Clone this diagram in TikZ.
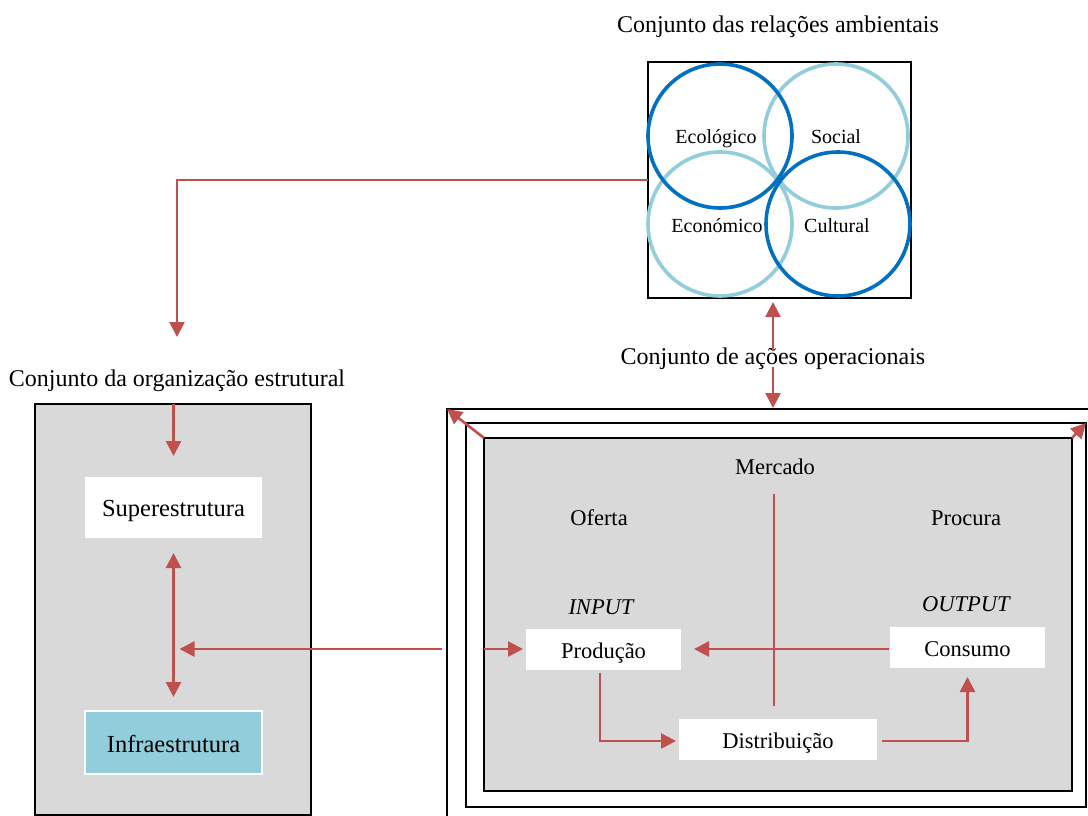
\documentclass[tikz,border=0pt]{standalone}
\usepackage{fontspec}
\setmainfont{Liberation Serif}
\usetikzlibrary{arrows.meta}
\definecolor{flowred}{HTML}{C0504D}
\definecolor{darkblue}{HTML}{0070C0}
\definecolor{lightblue}{HTML}{92CDDC}
\definecolor{panel}{HTML}{D9D9D9}
\begin{document}
\begin{tikzpicture}[x=1pt,y=-1pt,
  every node/.style={outer sep=0pt},
  label24/.style={font=\fontsize{24}{28}\selectfont, inner sep=0pt, anchor=base},
  label22/.style={font=\fontsize{22.5}{26}\selectfont, inner sep=0pt, anchor=base},
  circlabel/.style={font=\fontsize{20}{24}\selectfont, inner sep=0pt, anchor=base},
  frame/.style={draw=black, line width=1.6pt, rectangle},
  whitebox/.style={rectangle, fill=white, font=\fontsize{22.5}{26}\selectfont, text height=17pt, text depth=0pt},
  flow/.style={draw=flowred, line width=2.6pt, -{Triangle[width=15pt,length=15pt]}},
  flowboth/.style={draw=flowred, line width=2.6pt, {Triangle[width=15pt,length=15pt]}-{Triangle[width=15pt,length=15pt]}},
  flowline/.style={draw=flowred, line width=2.6pt},
  ring/.style={line width=3.6pt}
]
\fill[white] (0,0) rectangle (1088,816);
\clip (0,0) rectangle (1088,816);

% environmental relations
\node[label24] (ambtitle) at (778,33) {Conjunto das relações ambientais};
\node[frame, minimum width=263pt, minimum height=236pt] (topbox) at (779.5,180) {};
\draw[ring, lightblue] (836,136) circle (72);
\draw[ring, lightblue] (720,224) circle (72);
\draw[ring, darkblue] (720,136) circle (72);
\draw[ring, darkblue] (838,224) circle (72);
\node[circlabel] (eco) at (716,143.5) {Ecológico};
\node[circlabel] (soc) at (836,143.5) {Social};
\node[circlabel] (econ) at (717,232) {Económico};
\node[circlabel] (cult) at (837,232) {Cultural};

% structural organisation
\node[label24] (orgtitle) at (177,386) {Conjunto da organização estrutural};
\coordinate (orgin) at (177,337);
\node[frame, fill=panel, minimum width=276pt, minimum height=411pt] (leftbox) at (173,609.5) {};
\node[whitebox, font=\fontsize{24.5}{28}\selectfont, minimum width=177pt, minimum height=61pt] (super) at (173.5,507.5) {Superestrutura};
\node[rectangle, fill=lightblue, draw=white, line width=1.5pt, font=\fontsize{24.5}{28}\selectfont, text height=19pt, text depth=0pt, minimum width=177pt, minimum height=63pt] (infra) at (173.5,742.5) {Infraestrutura};

% operational actions
\node[label24] (opstitle) at (773,364) {Conjunto de ações operacionais};
\node[frame, minimum width=700pt, minimum height=500pt, anchor=north west] (outer) at (447,409) {};
\node[frame, minimum width=620pt, minimum height=384pt] (middle) at (776,615) {};
\node[frame, fill=panel, minimum width=588pt, minimum height=353pt] (inner) at (778,614.5) {};

\node[label22] (mercado) at (775,474.5) {Mercado};
\node[label22] (oferta) at (599,525.5) {Oferta};
\node[label22] (procura) at (966,525.5) {Procura};
\node[label22, font=\fontsize{22.5}{26}\selectfont\itshape] (input) at (601,614.5) {INPUT};
\node[label22, font=\fontsize{22.5}{26}\selectfont\itshape] (output) at (966,611.5) {OUTPUT};
\node[whitebox, minimum width=155pt, minimum height=41pt] (prod) at (603.5,649.5) {Produção};
\node[whitebox, minimum width=155pt, minimum height=41pt] (cons) at (967.5,647.5) {Consumo};
\node[whitebox, minimum width=198pt, minimum height=41pt] (dist) at (778,739.5) {Distribuição};

% connectors
\draw[flow] (topbox.west) -| (orgin);
\draw[flow, shorten <=-4pt, shorten >=4pt] (opstitle.north) -- (opstitle.north |- topbox.south);
\draw[flow, shorten <=-2pt, shorten >=1pt] (opstitle.south) -- (opstitle.south |- outer.north);
\draw[flow, shorten >=21pt] (leftbox.north -| super) -- (super.north);
\draw[flowboth, shorten <=15pt, shorten >=14pt] (super.south) -- (infra.north);
\draw[flow, shorten <=5pt, shorten >=6pt] (outer.west |- 0,649) -- (super.south |- 0,649);
\draw[flow, shorten >=3pt] (inner.west |- 0,649) -- (prod.west |- 0,649);
\draw[flow, shorten <=1pt, shorten >=13pt] (cons.west |- 0,649) -- (prod.east |- 0,649);
\draw[flowline, shorten <=19pt, shorten >=13pt] (mercado.south -| 774,0) -- (dist.north -| 774,0);
\draw[flow, shorten <=3pt, shorten >=3pt] ([xshift=-3.5pt]prod.south) |- (dist.west |- 0,741);
\draw[flow, shorten <=5pt, shorten >=9pt] (dist.east |- 0,741) -| (cons.south);
\draw[flow] (inner.north west) -- (outer.north west);
\draw[flow] (inner.north east) -- (middle.north east);
\end{tikzpicture}
\end{document}
